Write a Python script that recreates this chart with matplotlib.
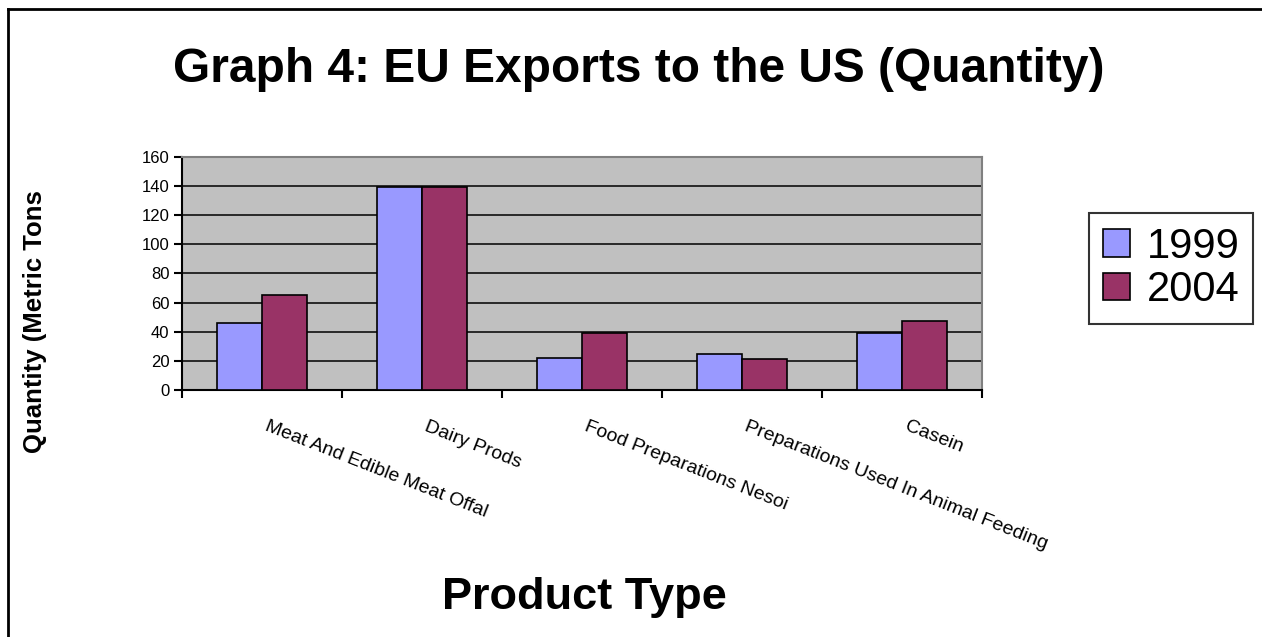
import numpy as np
import matplotlib.pyplot as plt
from matplotlib.lines import Line2D

plt.rcParams['font.family'] = ['Liberation Sans', 'DejaVu Sans']

categories = ['Meat And Edible Meat Offal', 'Dairy Prods', 'Food Preparations Nesoi',
              'Preparations Used In Animal Feeding', 'Casein']
v1999 = [46, 139, 22, 25, 39]
v2004 = [65, 139, 39, 21, 47]

fig = plt.figure(figsize=(12.62, 6.37), dpi=100)
ax = fig.add_axes([182 / 1262, 1 - 390 / 637, 800 / 1262, 233.3 / 637])

x = np.arange(len(categories))
w = 0.28
ax.bar(x - w / 2, v1999, w, color='#9999FF', edgecolor='black', linewidth=1.2, label='1999', zorder=3)
ax.bar(x + w / 2, v2004, w, color='#993366', edgecolor='black', linewidth=1.2, label='2004', zorder=3)

ax.set_facecolor('#C0C0C0')
ax.set_xlim(-0.5, len(categories) - 0.5)
ax.set_ylim(0, 160)
ax.set_yticks(range(0, 161, 20))
ax.yaxis.grid(True, color='black', linewidth=1.1, zorder=1)
ax.set_axisbelow(True)
ax.set_xticks(np.arange(-0.5, len(categories), 1))
ax.set_xticklabels([])
ax.tick_params(axis='both', direction='out', length=6, width=1.5, color='black', labelsize=12)
ax.tick_params(axis='y', pad=3)
for s in ['top', 'right']:
    ax.spines[s].set_color('#808080')
    ax.spines[s].set_linewidth(1.5)
for s in ['left', 'bottom']:
    ax.spines[s].set_color('black')
    ax.spines[s].set_linewidth(1.5)

for i, c in enumerate(categories):
    ax.text(i + 0.04, -19, c, rotation=-21.5, rotation_mode='anchor', ha='left', va='top',
            fontsize=14, transform=ax.transData, clip_on=False)

fig.text(639 / 1262, 1 - 69 / 637, 'Graph 4: EU Exports to the US (Quantity)', ha='center', va='center',
         fontsize=34.5, fontweight='bold')
fig.text(584 / 1262, 1 - 597 / 637, 'Product Type', ha='center', va='center', fontsize=32.5, fontweight='bold')
fig.text(35 / 1262, 1 - 322 / 637, 'Quantity (Metric Tons', rotation=90, ha='center', va='center',
         fontsize=18.5, fontweight='bold')

leg = fig.legend(loc='upper left', bbox_to_anchor=(1089 / 1262, 1 - 213 / 637), fontsize=30,
                 frameon=True, fancybox=False, edgecolor='black', handlelength=0.65, handleheight=0.65,
                 handletextpad=0.4, borderpad=0.33, labelspacing=0.08, borderaxespad=0)
leg.get_frame().set_linewidth(1.5)

# outer chart border (top and left)
fig.add_artist(Line2D([8 / 1262, 8 / 1262], [0, 1 - 9 / 637], color='black', linewidth=2))
fig.add_artist(Line2D([8 / 1262, 1], [1 - 9 / 637, 1 - 9 / 637], color='black', linewidth=2))

fig.savefig('out.png', dpi=100)
